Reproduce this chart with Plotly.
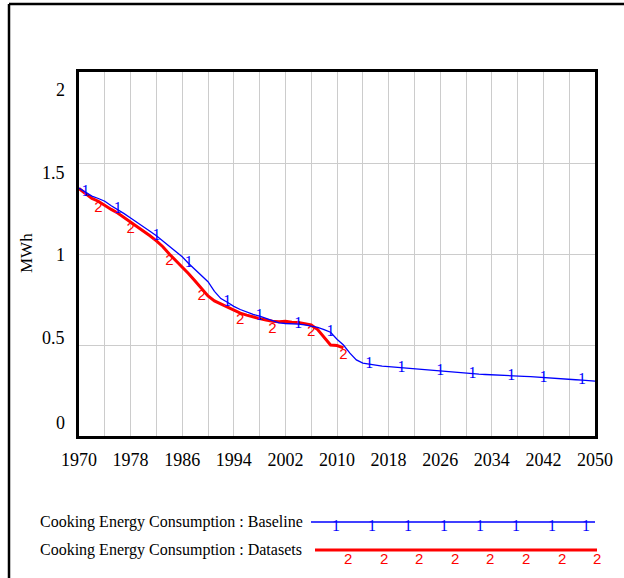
import plotly.graph_objects as go

# ── Data ──────────────────────────────────────────────────────────────────────
years_baseline = list(range(1970, 2051))
baseline = [
    1.362, 1.340, 1.318, 1.305, 1.290, 1.265, 1.245, 1.222, 1.198, 1.175,
    1.150, 1.125, 1.100, 1.070, 1.045, 1.015, 0.985, 0.948, 0.915, 0.880,
    0.848, 0.795, 0.755, 0.735, 0.712, 0.695, 0.680, 0.668, 0.658, 0.645,
    0.632, 0.622, 0.618, 0.617, 0.615, 0.610, 0.605, 0.597, 0.585, 0.570,
    0.532, 0.500, 0.455, 0.418, 0.400, 0.394, 0.390, 0.384, 0.381, 0.378,
    0.374, 0.370, 0.366, 0.364, 0.361, 0.359, 0.357, 0.354, 0.351, 0.347,
    0.344, 0.342, 0.340, 0.338, 0.337, 0.335, 0.333, 0.331, 0.330, 0.328,
    0.326, 0.323, 0.320, 0.319, 0.317, 0.314, 0.311, 0.309, 0.307, 0.305,
    0.302,
]
years_datasets = list(range(1970, 2012))
datasets = [
    1.360, 1.330, 1.305, 1.290, 1.265, 1.245, 1.225, 1.200, 1.178, 1.150,
    1.125, 1.100, 1.072, 1.040, 1.000, 0.965, 0.930, 0.892, 0.852, 0.810,
    0.770, 0.742, 0.725, 0.706, 0.690, 0.675, 0.664, 0.653, 0.645, 0.637,
    0.630, 0.628, 0.630, 0.625, 0.624, 0.617, 0.610, 0.585, 0.545, 0.500,
    0.497, 0.484,
]
baseline_marker_years = [1971, 1976, 1982, 1987, 1993, 1998, 2004, 2009,
                         2015, 2020, 2026, 2031, 2037, 2042, 2048]
datasets_marker_years = [1973, 1978, 1984, 1989, 1995, 2000, 2006, 2011]

x_ticks = list(range(1970, 2051, 8))
y_ticks = [0, 0.5, 1, 1.5, 2]
series_names = ["Cooking Energy Consumption : Baseline",
                "Cooking Energy Consumption : Datasets"]

FONT = "Liberation Serif"
MARK1_FONT = "Liberation Sans Narrow"
MARK2_FONT = "Liberation Sans"
BLUE = "#0000ff"
RED = "#ff0000"

fig = go.Figure()

fig.add_trace(go.Scatter(
    x=years_datasets, y=datasets, mode="lines+text",
    line=dict(color=RED, width=3),
    text=["2" if y in datasets_marker_years else "" for y in years_datasets],
    textposition="bottom center",
    textfont=dict(color=RED, size=15, family=MARK2_FONT),
    showlegend=False, cliponaxis=False,
))
fig.add_trace(go.Scatter(
    x=years_baseline, y=baseline, mode="lines+text",
    line=dict(color=BLUE, width=1.3),
    text=["1" if y in baseline_marker_years else "" for y in years_baseline],
    textposition="middle center",
    textfont=dict(color=BLUE, size=16, family=MARK1_FONT),
    showlegend=False, cliponaxis=False,
))

# ── Plot area geometry (pixels) ──────────────────────────────────────────────
W, H = 624, 578
L, R, T, B = 79, 595, 72, 436
pw, ph = R - L, B - T


def px_x(x):
    return (x - L) / pw


def px_y(y):
    return (B - y) / ph


annotations = []
# y tick labels, Vensim style (spread slightly inside the gridlines)
for v, ypix in zip(y_ticks, [423, 338, 255, 173, 90]):
    annotations.append(dict(
        x=px_x(67), y=px_y(ypix), xref="paper", yref="paper",
        text=f"{v:g}", showarrow=False, xanchor="right", yanchor="middle",
        font=dict(family=FONT, size=18, color="black"),
    ))
# y-axis title
annotations.append(dict(
    x=px_x(26), y=px_y(253), xref="paper", yref="paper", text="MWh",
    showarrow=False, textangle=-90, xanchor="center", yanchor="middle",
    font=dict(family=FONT, size=17, color="black"),
))

# legend (text + sample line with its number markers)
shapes = []
legend_rows = [
    (series_names[0], 522, 311, 595, BLUE, 1.3, "1",
     [336, 372, 408, 444, 480, 516, 552, 586], MARK1_FONT, 16, -3),
    (series_names[1], 550, 315, 597, RED, 3, "2",
     [348, 384, 419, 455, 490, 526, 562, 597], MARK2_FONT, 15, -8),
]
for name, ly, x0, x1, col, lw, mark, mxs, mfont, msize, dy in legend_rows:
    annotations.append(dict(
        x=px_x(38), y=px_y(ly), xref="paper", yref="paper", text=name,
        showarrow=False, xanchor="left", yanchor="middle",
        font=dict(family=FONT, size=16, color="black"),
    ))
    shapes.append(dict(type="line", xref="paper", yref="paper",
                       x0=px_x(x0), x1=px_x(x1), y0=px_y(ly), y1=px_y(ly),
                       line=dict(color=col, width=lw)))
    for mx in mxs:
        annotations.append(dict(
            x=px_x(mx), y=px_y(ly), xref="paper", yref="paper", text=mark,
            showarrow=False, xanchor="center", yanchor="middle", yshift=dy,
            font=dict(family=mfont, size=msize, color=col),
        ))

# outer frame (left and top edges visible)
shapes.append(dict(type="line", xref="paper", yref="paper",
                   x0=px_x(9), x1=px_x(9), y0=px_y(4), y1=px_y(W),
                   line=dict(color="black", width=2.5)))
shapes.append(dict(type="line", xref="paper", yref="paper",
                   x0=px_x(9), x1=px_x(W + 10), y0=px_y(4), y1=px_y(4),
                   line=dict(color="black", width=2.5)))

fig.update_layout(
    width=W, height=H,
    margin=dict(l=L, r=W - R, t=T, b=H - B, pad=0),
    paper_bgcolor="white", plot_bgcolor="white",
    showlegend=False,
    annotations=annotations, shapes=shapes,
    xaxis=dict(
        range=[1970, 2050], tickvals=list(range(1970, 2051, 4)),
        ticktext=[str(y) if y in x_ticks else "" for y in range(1970, 2051, 4)],
        showgrid=True, gridcolor="#cccccc", gridwidth=1,
        showline=True, linecolor="black", linewidth=2.5, mirror=True,
        ticks="", ticklabelstandoff=6, zeroline=False,
        tickfont=dict(family=FONT, size=18, color="black"),
    ),
    yaxis=dict(
        range=[0, 2], tickvals=y_ticks, showticklabels=False,
        showgrid=True, gridcolor="#cccccc", gridwidth=1,
        showline=True, linecolor="black", linewidth=2.5, mirror=True,
        ticks="", zeroline=False,
    ),
)

fig.write_html(
    "out.html",
    config={"displayModeBar": False},
    post_script="document.body.style.margin='0';document.body.style.overflow='hidden';",
)
